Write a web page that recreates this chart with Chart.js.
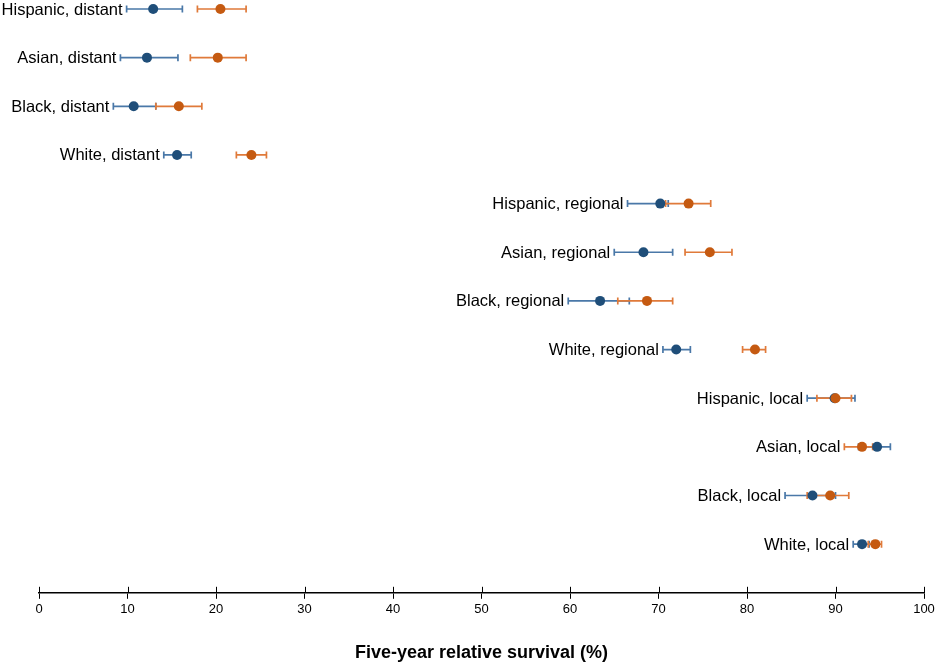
<!DOCTYPE html>
<html>
<head>
<meta charset="utf-8">
<script src="https://cdn.jsdelivr.net/npm/chart.js@4.4.0/dist/chart.umd.min.js"></script>
<style>
  html, body { margin: 0; padding: 0; background: #fff; }
  .wrap { width: 939px; height: 666px; position: relative; }
</style>
</head>
<body>
<div class="wrap"><canvas id="chart"></canvas></div>
<script>
const rowLabels = [
  'Hispanic, distant', 'Asian, distant', 'Black, distant', 'White, distant',
  'Hispanic, regional', 'Asian, regional', 'Black, regional', 'White, regional',
  'Hispanic, local', 'Asian, local', 'Black, local', 'White, local'
];

// blue group: estimate and 95% CI
const blueEst = [12.9, 12.2, 10.7, 15.6, 70.2, 68.3, 63.4, 72.0, 89.9, 94.7, 87.4, 93.0];
const blueLo  = [9.9, 9.2, 8.4, 14.1, 66.5, 65.0, 59.8, 70.5, 86.8, 92.6, 84.3, 92.0];
const blueHi  = [16.2, 15.7, 13.2, 17.2, 71.1, 71.6, 66.7, 73.6, 92.2, 96.2, 90.0, 93.8];

// orange group
const orangeEst = [20.5, 20.2, 15.8, 24.0, 73.4, 75.8, 68.7, 80.9, 90.0, 93.0, 89.4, 94.5];
const orangeLo  = [17.9, 17.1, 13.2, 22.3, 70.8, 73.0, 65.4, 79.5, 87.9, 91.0, 86.8, 93.7];
const orangeHi  = [23.4, 23.4, 18.4, 25.7, 75.9, 78.3, 71.6, 82.1, 91.8, 94.2, 91.5, 95.2];

const xTicks = [0, 10, 20, 30, 40, 50, 60, 70, 80, 90, 100];

const toPoints = (est) => est.map((v, i) => ({ x: v, y: i }));

// all whiskers first (blue, then orange), the dots go on top
const errorBars = {
  id: 'errorBars',
  beforeDatasetsDraw(chart) {
    const { ctx, scales } = chart;
    ctx.save();
    ctx.lineWidth = 1.7;
    chart.data.datasets.forEach(ds => {
      ctx.strokeStyle = ds.whiskerColor;
      ds.lo.forEach((lo, i) => {
        const y = scales.y.getPixelForValue(i);
        const x1 = scales.x.getPixelForValue(lo);
        const x2 = scales.x.getPixelForValue(ds.hi[i]);
        ctx.beginPath();
        ctx.moveTo(x1, y);
        ctx.lineTo(x2, y);
        ctx.moveTo(x1, y - 3.5);
        ctx.lineTo(x1, y + 3.5);
        ctx.moveTo(x2, y - 3.5);
        ctx.lineTo(x2, y + 3.5);
        ctx.stroke();
      });
    });
    ctx.restore();
  }
};

// row labels sit just left of the lowest whisker end
const rowText = {
  id: 'rowText',
  afterDraw(chart) {
    const { ctx, scales } = chart;
    ctx.save();
    ctx.font = '16.5px "Liberation Sans", Arial, sans-serif';
    ctx.fillStyle = '#000';
    ctx.textAlign = 'right';
    ctx.textBaseline = 'middle';
    rowLabels.forEach((lab, i) => {
      const left = Math.min(blueLo[i], orangeLo[i]);
      ctx.fillText(lab, scales.x.getPixelForValue(left) - 4, scales.y.getPixelForValue(i) + 1);
    });
    // upper half of the x tick marks
    const yAxis = chart.chartArea.bottom;
    ctx.strokeStyle = '#000';
    ctx.lineWidth = 1;
    xTicks.forEach(t => {
      const x = Math.round(scales.x.getPixelForValue(t)) + 0.5;
      ctx.beginPath();
      ctx.moveTo(x, yAxis - 6);
      ctx.lineTo(x, yAxis);
      ctx.stroke();
    });
    ctx.restore();
  }
};

new Chart(document.getElementById('chart'), {
  type: 'scatter',
  data: {
    datasets: [
      {
        label: 'Group 1',
        data: toPoints(blueEst),
        lo: blueLo,
        hi: blueHi,
        whiskerColor: '#4a78a8',
        backgroundColor: '#1f4e79',
        borderColor: '#1f4e79',
        pointRadius: 5,
        borderWidth: 0,
        order: 2
      },
      {
        label: 'Group 2',
        data: toPoints(orangeEst),
        lo: orangeLo,
        hi: orangeHi,
        whiskerColor: '#e07a3a',
        backgroundColor: '#c55a11',
        borderColor: '#c55a11',
        pointRadius: 5,
        borderWidth: 0,
        order: 1
      }
    ]
  },
  options: {
    responsive: true,
    maintainAspectRatio: false,
    animation: false,
    clip: false,
    layout: { padding: { left: 39, right: 15, top: 0, bottom: 2 } },
    plugins: {
      legend: { display: false },
      tooltip: { enabled: false }
    },
    scales: {
      x: {
        type: 'linear',
        min: 0,
        max: 100,
        afterBuildTicks: (axis) => { axis.ticks = xTicks.map(v => ({ value: v })); },
        ticks: {
          color: '#000',
          padding: 3,
          font: { family: '"Liberation Sans", Arial, sans-serif', size: 13 }
        },
        grid: { drawOnChartArea: false, drawTicks: true, tickLength: 6, color: '#000' },
        border: { display: true, color: '#000', width: 1.5 },
        title: {
          display: true,
          text: 'Five-year relative survival (%)',
          color: '#000',
          padding: { top: 22, bottom: 0 },
          font: { family: '"Liberation Sans", Arial, sans-serif', size: 18, weight: 'bold' }
        }
      },
      y: {
        type: 'linear',
        reverse: true,
        min: -0.082,
        max: 12,
        display: false
      }
    }
  },
  plugins: [errorBars, rowText]
});
</script>
</body>
</html>
